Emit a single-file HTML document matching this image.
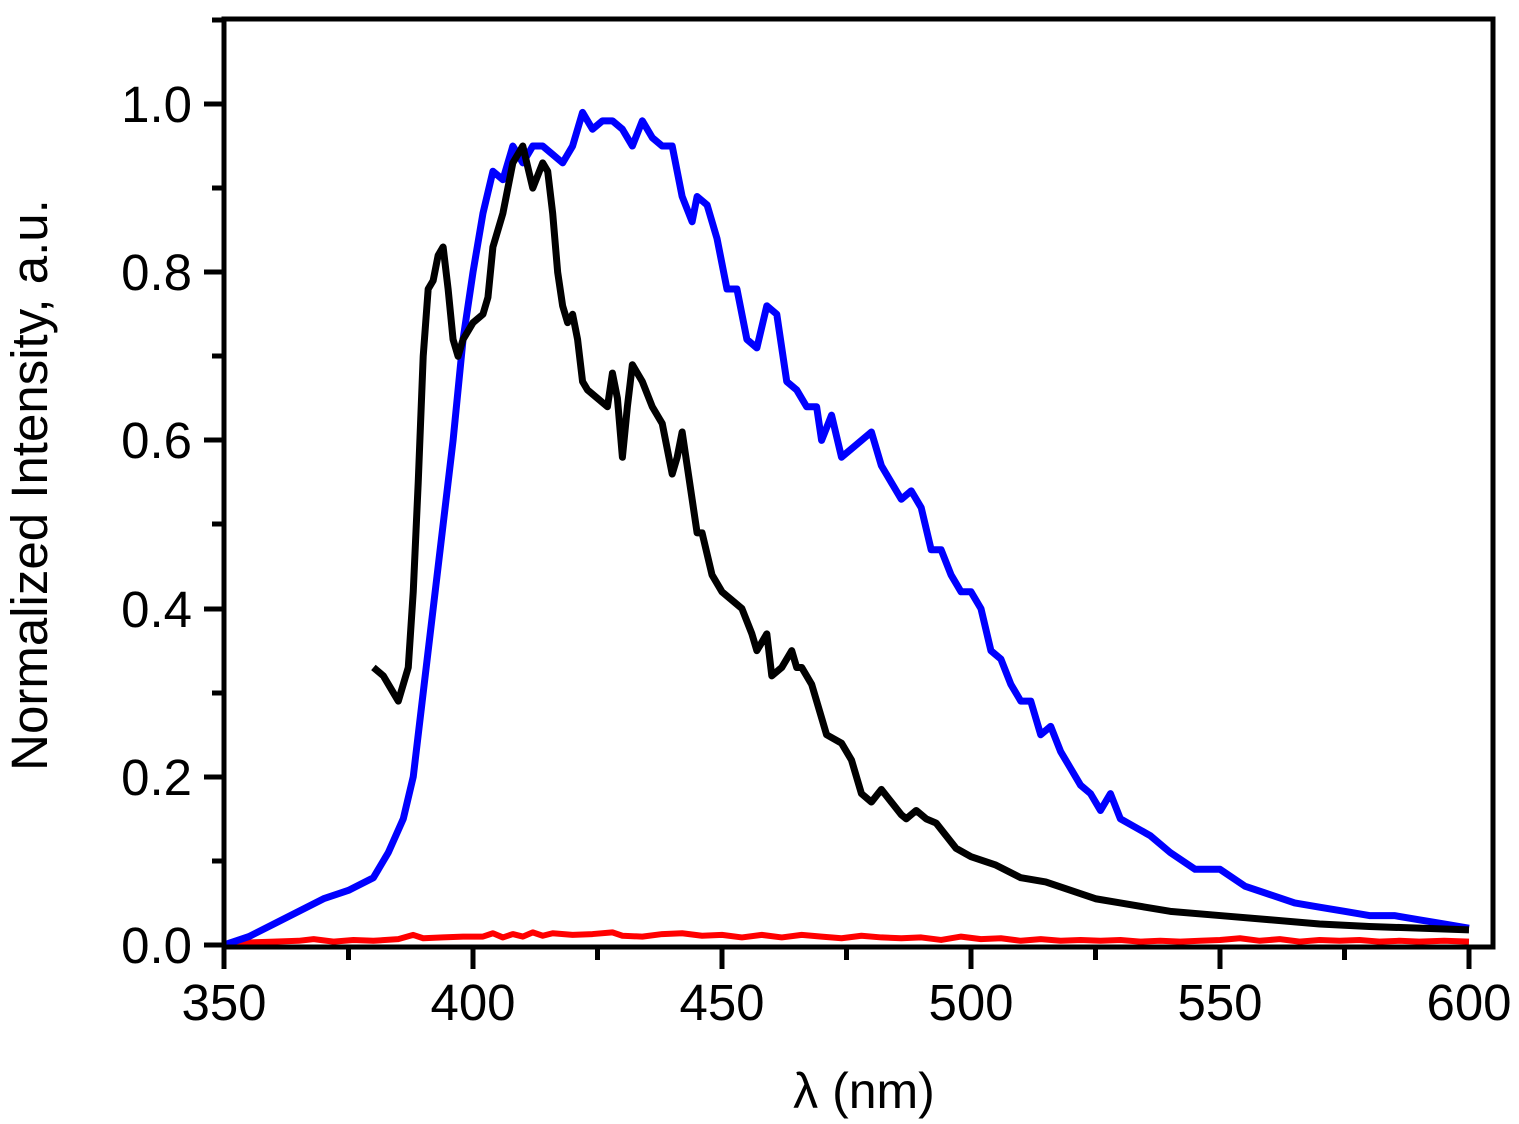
<!DOCTYPE html>
<html><head><meta charset="utf-8"><style>
html,body{margin:0;padding:0;background:#fff;}
svg{display:block;font-family:"Liberation Sans",Arial,sans-serif;}
</style></head><body>
<svg width="1519" height="1124" viewBox="0 0 1519 1124" xmlns="http://www.w3.org/2000/svg">
<rect width="1519" height="1124" fill="#fff"/>
<g transform="translate(-1519,945) scale(4.98,-841)" fill="none" stroke-linejoin="round">
<polyline vector-effect="non-scaling-stroke" stroke="#ff0000" stroke-width="6" points="350,0 355,0.003 360,0.004 365,0.005 368,0.007 372,0.004 376,0.006 380,0.005 385,0.007 388,0.012 390,0.008 394,0.009 398,0.01 402,0.01 404,0.014 406,0.009 408,0.013 410,0.01 412,0.015 414,0.011 416,0.014 420,0.012 424,0.013 428,0.015 430,0.011 434,0.01 438,0.013 442,0.014 446,0.011 450,0.012 454,0.009 458,0.012 462,0.009 466,0.012 470,0.01 474,0.008 478,0.011 482,0.009 486,0.008 490,0.009 494,0.006 498,0.01 502,0.007 506,0.008 510,0.005 514,0.007 518,0.005 522,0.006 526,0.005 530,0.006 534,0.004 538,0.005 542,0.004 546,0.005 550,0.006 554,0.008 558,0.005 562,0.007 566,0.004 570,0.006 574,0.005 578,0.006 582,0.004 586,0.005 590,0.004 595,0.005 600,0.004"/>
<polyline vector-effect="non-scaling-stroke" stroke="#0000ff" stroke-width="7" points="350,0 355,0.01 360,0.025 365,0.04 370,0.055 375,0.065 380,0.08 383,0.11 386,0.15 388,0.2 390,0.3 392,0.4 394,0.5 396,0.6 398,0.72 400,0.8 402,0.87 404,0.92 406,0.91 408,0.95 410,0.93 412,0.95 414,0.95 416,0.94 418,0.93 420,0.95 422,0.99 424,0.97 426,0.98 428,0.98 430,0.97 432,0.95 434,0.98 436,0.96 438,0.95 440,0.95 442,0.89 444,0.86 445,0.89 447,0.88 449,0.84 451,0.78 453,0.78 455,0.72 457,0.71 459,0.76 461,0.75 463,0.67 465,0.66 467,0.64 469,0.64 470,0.6 472,0.63 474,0.58 476,0.59 478,0.6 480,0.61 482,0.57 484,0.55 486,0.53 488,0.54 490,0.52 492,0.47 494,0.47 496,0.44 498,0.42 500,0.42 502,0.4 504,0.35 506,0.34 508,0.31 510,0.29 512,0.29 514,0.25 516,0.26 518,0.23 520,0.21 522,0.19 524,0.18 526,0.16 528,0.18 530,0.15 533,0.14 536,0.13 540,0.11 545,0.09 550,0.09 555,0.07 560,0.06 565,0.05 570,0.045 575,0.04 580,0.035 585,0.035 590,0.03 595,0.025 600,0.02"/>
<polyline vector-effect="non-scaling-stroke" stroke="#000" stroke-width="7" points="380,0.33 382,0.32 384,0.3 385,0.29 387,0.33 388,0.42 389,0.55 390,0.7 391,0.78 392,0.79 393,0.82 394,0.83 395,0.78 396,0.72 397,0.7 398,0.72 400,0.74 402,0.75 403,0.77 404,0.83 406,0.87 408,0.93 410,0.95 412,0.9 414,0.93 415,0.92 416,0.87 417,0.8 418,0.76 419,0.74 420,0.75 421,0.72 422,0.67 423,0.66 425,0.65 427,0.64 428,0.68 429,0.65 430,0.58 431,0.64 432,0.69 434,0.67 436,0.64 438,0.62 440,0.56 441,0.58 442,0.61 443,0.57 444,0.53 445,0.49 446,0.49 448,0.44 450,0.42 452,0.41 454,0.4 456,0.37 457,0.35 459,0.37 460,0.32 462,0.33 464,0.35 465,0.33 466,0.33 468,0.31 470,0.27 471,0.25 474,0.24 476,0.22 478,0.18 480,0.17 482,0.185 484,0.17 486,0.155 487,0.15 489,0.16 491,0.15 493,0.145 495,0.13 497,0.115 500,0.105 505,0.095 510,0.08 515,0.075 520,0.065 525,0.055 530,0.05 535,0.045 540,0.04 550,0.035 560,0.03 570,0.025 580,0.022 590,0.02 600,0.018"/>
</g>
<rect x="224" y="19" width="1269" height="928" fill="none" stroke="#000" stroke-width="5"/>
<g stroke="#000" stroke-width="5">
<line x1="224" y1="947" x2="224" y2="969"/><line x1="348.5" y1="947" x2="348.5" y2="960"/>
<line x1="473" y1="947" x2="473" y2="969"/><line x1="597.5" y1="947" x2="597.5" y2="960"/>
<line x1="722" y1="947" x2="722" y2="969"/><line x1="846.5" y1="947" x2="846.5" y2="960"/>
<line x1="971" y1="947" x2="971" y2="969"/><line x1="1095.5" y1="947" x2="1095.5" y2="960"/>
<line x1="1220" y1="947" x2="1220" y2="969"/><line x1="1344.5" y1="947" x2="1344.5" y2="960"/>
<line x1="1469" y1="947" x2="1469" y2="969"/>
<line x1="204" y1="945" x2="224" y2="945"/><line x1="212" y1="861" x2="224" y2="861"/>
<line x1="204" y1="777" x2="224" y2="777"/><line x1="212" y1="693" x2="224" y2="693"/>
<line x1="204" y1="609" x2="224" y2="609"/><line x1="212" y1="524" x2="224" y2="524"/>
<line x1="204" y1="440" x2="224" y2="440"/><line x1="212" y1="356" x2="224" y2="356"/>
<line x1="204" y1="272" x2="224" y2="272"/><line x1="212" y1="188" x2="224" y2="188"/>
<line x1="204" y1="104" x2="224" y2="104"/><line x1="212" y1="20" x2="224" y2="20"/>
</g>
<g font-size="51" fill="#000" text-anchor="middle">
<text x="224" y="1020">350</text><text x="473" y="1020">400</text><text x="722" y="1020">450</text>
<text x="971" y="1020">500</text><text x="1220" y="1020">550</text><text x="1469" y="1020">600</text>
</g>
<g font-size="51" fill="#000" text-anchor="end">
<text x="192" y="963">0.0</text><text x="192" y="795">0.2</text><text x="192" y="627">0.4</text>
<text x="192" y="458">0.6</text><text x="192" y="290">0.8</text><text x="192" y="122">1.0</text>
</g>
<text x="864" y="1108" font-size="50" text-anchor="middle" fill="#000">λ (nm)</text>
<text transform="translate(47,485) rotate(-90)" font-size="51" text-anchor="middle" fill="#000">Normalized Intensity, a.u.</text>
</svg>
</body></html>
